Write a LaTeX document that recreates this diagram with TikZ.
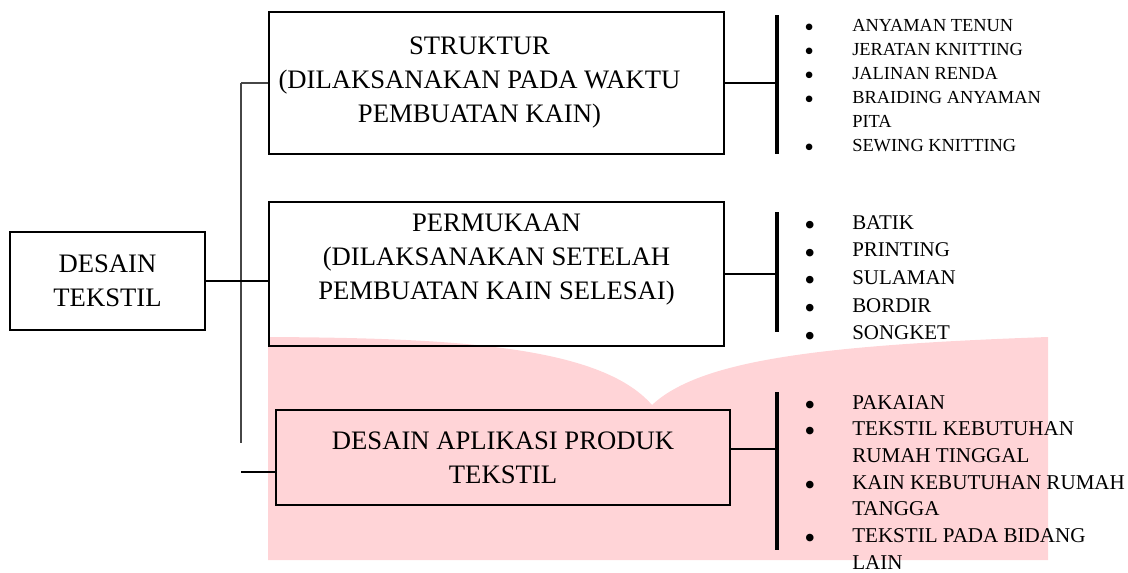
\documentclass[tikz,border=0pt]{standalone}
\usepackage{fontspec}
\setmainfont{Liberation Serif}
\usetikzlibrary{positioning}

\definecolor{bgpink}{RGB}{255,212,215}
\definecolor{trunkgray}{RGB}{70,70,70}
\newcommand{\bigdot}{\smash{\raisebox{-0.3em}{\scalebox{1.5}{\textbullet}}}}

\begin{document}
\begin{tikzpicture}[x=0.75pt,y=-0.75pt,
  box/.style={draw,line width=0.8pt,inner sep=0pt,align=center,
    font=\fontsize{20}{25.5}\selectfont},
  trunk/.style={draw=trunkgray,line width=1.2pt},
  conn/.style={line width=1pt},
  bar/.style={line width=2.8pt},
  itemlist/.style={anchor=base west,inner sep=0pt}]
  \useasboundingbox (0,0) rectangle (1128,572);
  % background
  \fill[bgpink] (268,337) .. controls (450,338) and (600,345) .. (652,405)
    .. controls (700,360) and (820,345) .. (1048,337)
    -- (1048,560) -- (268,560) -- cycle;
  % boxes
  \node[box,minimum width=146.25pt,minimum height=73.5pt] (desain) at (107.5,281)
    {DESAIN\\TEKSTIL};
  \node[box,minimum width=341.25pt,minimum height=106.5pt,
    label={[xshift=-12.75pt,align=center,font=\fontsize{20}{25.5}\selectfont]center:%
      STRUKTUR\\(DILAKSANAKAN PADA WAKTU\\PEMBUATAN KAIN)}] (struktur) at (496.5,83) {};
  \node[box,minimum width=341.25pt,minimum height=108pt] (permukaan) at (496.5,274)
    {PERMUKAAN\\(DILAKSANAKAN SETELAH\\PEMBUATAN KAIN SELESAI)\\~};
  \node[box,minimum width=340.5pt,minimum height=71.25pt] (aplikasi) at (503,457.5)
    {DESAIN APLIKASI PRODUK\\TEKSTIL};
  % tree lines
  \coordinate (trunktop) at (241,83);
  \coordinate (trunkbot) at (241,443);
  \coordinate (aplstub) at (241,472);
  \draw[trunk] (trunktop) -- (trunkbot);
  \draw[trunk] (trunktop) -- (struktur.west);
  \draw[conn] (desain.east) -- (desain.east -| permukaan.west);
  \draw[conn] (aplstub) -- (aplstub -| aplikasi.west);
  % bars
  \coordinate (b1n) at (777,15);
  \coordinate (b1s) at (777,154);
  \coordinate (b2n) at (777,212);
  \coordinate (b2s) at (777,332);
  \coordinate (b3n) at (777,392);
  \coordinate (b3s) at (777,550);
  \coordinate (a3) at (777,449);
  \draw[bar] (b1n) -- (b1s);
  \draw[bar] (b2n) -- (b2s);
  \draw[bar] (b3n) -- (b3s);
  \draw[conn] (struktur.east) -- (struktur.east -| b1n);
  \draw[conn] (permukaan.east) -- (permukaan.east -| b2n);
  \draw[conn] (a3 -| aplikasi.east) -- (a3);
  % lists
  \node[itemlist,font=\fontsize{13.8}{18}\selectfont] (list1) at (804,31)
    {\begin{tabular}[t]{@{}p{36pt}@{}l@{}}
      \bigdot & ANYAMAN TENUN\\
      \bigdot & JERATAN KNITTING\\
      \bigdot & JALINAN RENDA\\
      \bigdot & BRAIDING ANYAMAN\\
              & PITA\\
      \bigdot & SEWING KNITTING
    \end{tabular}};
  \node[itemlist,font=\fontsize{15.7}{20.8}\selectfont] (list2) at (804,229)
    {\begin{tabular}[t]{@{}p{36pt}@{}l@{}}
      \bigdot & BATIK\\
      \bigdot & PRINTING\\
      \bigdot & SULAMAN\\
      \bigdot & BORDIR\\
      \bigdot & SONGKET
    \end{tabular}};
  \node[itemlist,font=\fontsize{15.8}{20}\selectfont] (list3) at (804,409)
    {\begin{tabular}[t]{@{}p{36pt}@{}l@{}}
      \bigdot & PAKAIAN\\
      \bigdot & TEKSTIL KEBUTUHAN\\
              & RUMAH TINGGAL\\
      \bigdot & KAIN KEBUTUHAN RUMAH\\
              & TANGGA\\
      \bigdot & TEKSTIL PADA BIDANG\\
              & LAIN
    \end{tabular}};
\end{tikzpicture}
\end{document}
